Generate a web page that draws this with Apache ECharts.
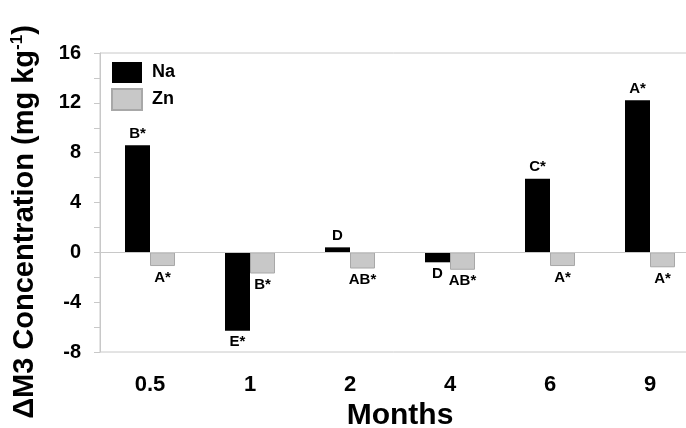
<!DOCTYPE html>
<html>
<head>
<meta charset="utf-8">
<script src="https://cdn.jsdelivr.net/npm/echarts@6/dist/echarts.min.js"></script>
<style>html,body{margin:0;padding:0;background:#fff;}#c{width:686px;height:428px;}</style>
</head>
<body>
<div id="c"></div>
<script>
var months = ['0.5', '1', '2', '4', '6', '9'];
var naValues = [8.6, -6.3, 0.4, -0.8, 5.9, 12.2];
var znValues = [-1.1, -1.7, -1.3, -1.4, -1.1, -1.2];
var naLetters = ['B*', 'E*', 'D', 'D', 'C*', 'A*'];
var znLetters = ['A*', 'B*', 'AB*', 'AB*', 'A*', 'A*'];
var yTicks = { min: -8, max: 16, interval: 4 };

var FONT = '"Liberation Sans", Arial, sans-serif';
var AXIS_GRAY = '#c8c8c8';

function buildData(values, letters) {
  return values.map(function (v, i) {
    return {
      value: v,
      label: { position: v >= 0 ? 'top' : 'bottom', formatter: letters[i] }
    };
  });
}

var labelStyle = {
  show: true,
  fontFamily: FONT,
  fontWeight: 'bold',
  fontSize: 15,
  color: '#000',
  distance: 4
};

var chart = echarts.init(document.getElementById('c'), null, { renderer: 'canvas' });
chart.setOption({
  animation: false,
  backgroundColor: '#fff',
  grid: {
    left: 100, top: 53, width: 600, bottom: 76,
    outerBoundsMode: 'none',
    containLabel: false,
    show: true, borderColor: AXIS_GRAY, borderWidth: 1, backgroundColor: 'transparent'
  },
  legend: {
    orient: 'vertical',
    left: 111, top: 62,
    padding: 0,
    itemWidth: 30, itemHeight: 21, itemGap: 5,
    icon: 'rect',
    textStyle: { fontFamily: FONT, fontWeight: 'bold', fontSize: 18, color: '#000', padding: [0, 0, 0, 5] },
    data: ['Na', 'Zn']
  },
  xAxis: {
    type: 'category',
    data: months,
    axisLine: { lineStyle: { color: AXIS_GRAY, width: 1 } },
    axisTick: { alignWithLabel: true, length: 10, lineStyle: { color: AXIS_GRAY } },
    axisLabel: { fontFamily: FONT, fontWeight: 'bold', fontSize: 22, color: '#000', margin: 22 },
    splitLine: { show: false },
    name: 'Months',
    nameLocation: 'middle',
    nameGap: 45,
    nameTextStyle: { fontFamily: FONT, fontWeight: 'bold', fontSize: 30, color: '#000' }
  },
  yAxis: {
    type: 'value',
    min: yTicks.min, max: yTicks.max, interval: yTicks.interval,
    axisLine: { show: true, lineStyle: { color: AXIS_GRAY, width: 1 } },
    axisTick: { show: true, length: 6, lineStyle: { color: AXIS_GRAY } },
    minorTick: { show: true, splitNumber: 2, length: 6, lineStyle: { color: AXIS_GRAY } },
    splitLine: { show: false },
    axisLabel: { fontFamily: FONT, fontWeight: 'bold', fontSize: 20, color: '#000', margin: 19 },
    name: '{a|ΔM3 Concentration (mg kg}{s|-1}{a|)}',
    nameLocation: 'middle',
    nameRotate: 90,
    nameGap: 59,
    nameTextStyle: {
      padding: [0, 39, 0, 0],
      rich: {
        a: { fontFamily: FONT, fontWeight: 'bold', fontSize: 29, color: '#000', lineHeight: 32 },
        s: { fontFamily: FONT, fontWeight: 'bold', fontSize: 17, color: '#000', verticalAlign: 'top', lineHeight: 32 }
      }
    }
  },
  series: [
    {
      name: 'Na',
      type: 'bar',
      barWidth: 25,
      barGap: '0%',
      itemStyle: { color: '#000' },
      label: labelStyle,
      data: buildData(naValues, naLetters),
      markLine: {
        silent: true,
        symbol: ['none', 'none'],
        label: { show: false },
        lineStyle: { color: AXIS_GRAY, type: 'solid', width: 1 },
        data: [{ yAxis: 0 }]
      }
    },
    {
      name: 'Zn',
      type: 'bar',
      barWidth: 25,
      barGap: '0%',
      itemStyle: { color: '#c8c8c8', borderColor: '#a8a8a8', borderWidth: 1 },
      label: labelStyle,
      data: buildData(znValues, znLetters)
    }
  ]
});
</script>
</body>
</html>
